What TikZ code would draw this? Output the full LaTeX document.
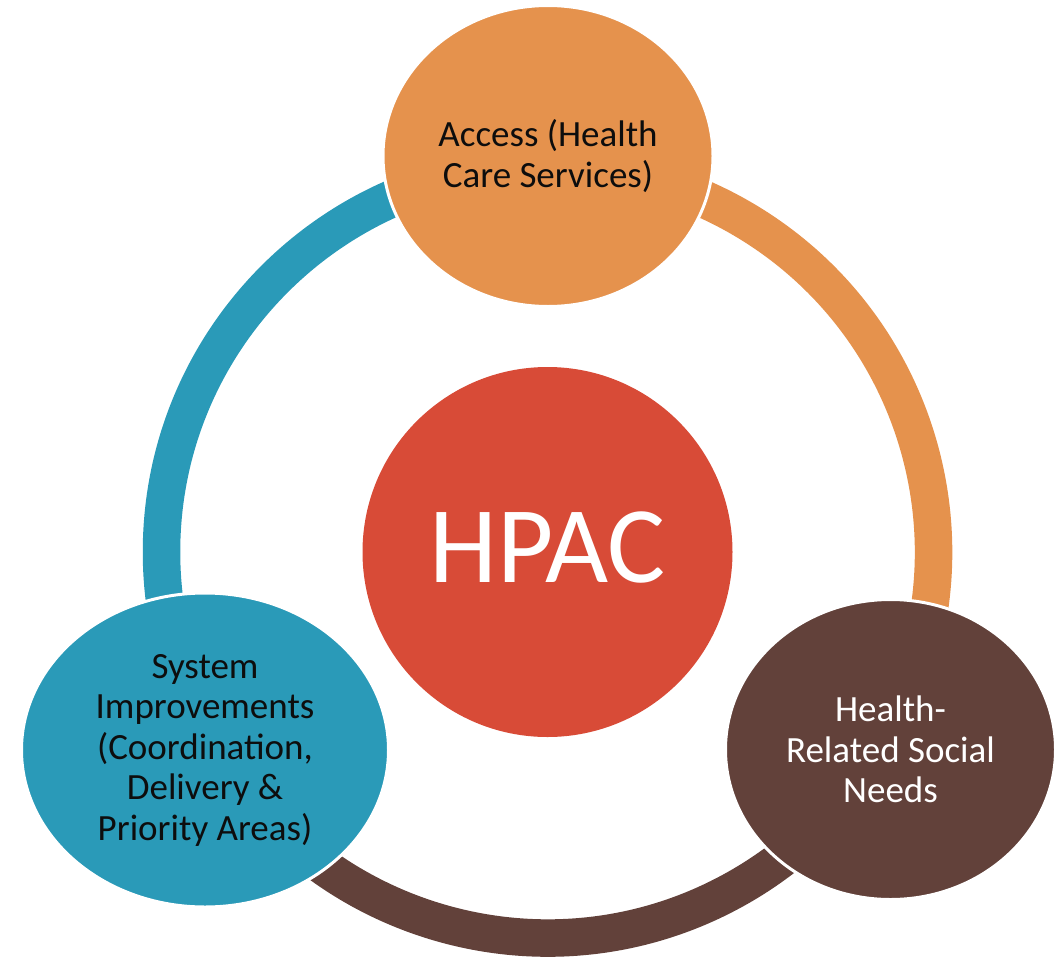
\documentclass[tikz,border=0pt]{standalone}
\usepackage{fontspec}
\setmainfont{Carlito}
\usetikzlibrary{shapes.geometric}
\definecolor{cOrange}{HTML}{E5924D}
\definecolor{cBlue}{HTML}{2A9AB8}
\definecolor{cBrown}{HTML}{62413A}
\definecolor{cRed}{HTML}{D84B37}
\definecolor{cText}{HTML}{0D0D0D}
\tikzset{
  bubble/.style={ellipse, inner sep=0pt, draw=white, line width=3pt, align=center,
    font=\fontsize{37}{40.5}\selectfont},
  ringarc/.style={line width=37.5pt}
}
\begin{document}
\begin{tikzpicture}[x=1pt,y=1pt]
\useasboundingbox (0,0) rectangle (1063,-956);
\node[circle, inner sep=0pt, minimum size=370pt, fill=cRed, text=white,
  font=\fontsize{109}{114}\selectfont, text depth=10pt] (hpac) at (547.5,-552) {HPAC};
% ring arcs
\draw[ringarc, cBlue] (hpac.center) ++(90:386) arc[start angle=90, end angle=210, radius=386];
\draw[ringarc, cBrown] (hpac.center) ++(210:386) arc[start angle=210, end angle=330, radius=386];
\draw[ringarc, cOrange] (hpac.center) ++(-30:386) arc[start angle=-30, end angle=90, radius=386];
% outer bubbles
\node[bubble, fill=cOrange, text=cText, minimum width=330pt, minimum height=301pt] (access) at (548,-156)
  {Access (Health\\Care Services)};
\node[bubble, fill=cBlue, text=cText, minimum width=367pt, minimum height=314pt] (system) at (205,-750)
  {System\\Improvements\\(Coordination,\\Delivery \&\\Priority Areas)};
\node[bubble, fill=cBrown, text=white, minimum width=330pt, minimum height=300pt] (needs) at (890.5,-749.5)
  {Health-\\Related Social\\Needs};
\end{tikzpicture}
\end{document}
